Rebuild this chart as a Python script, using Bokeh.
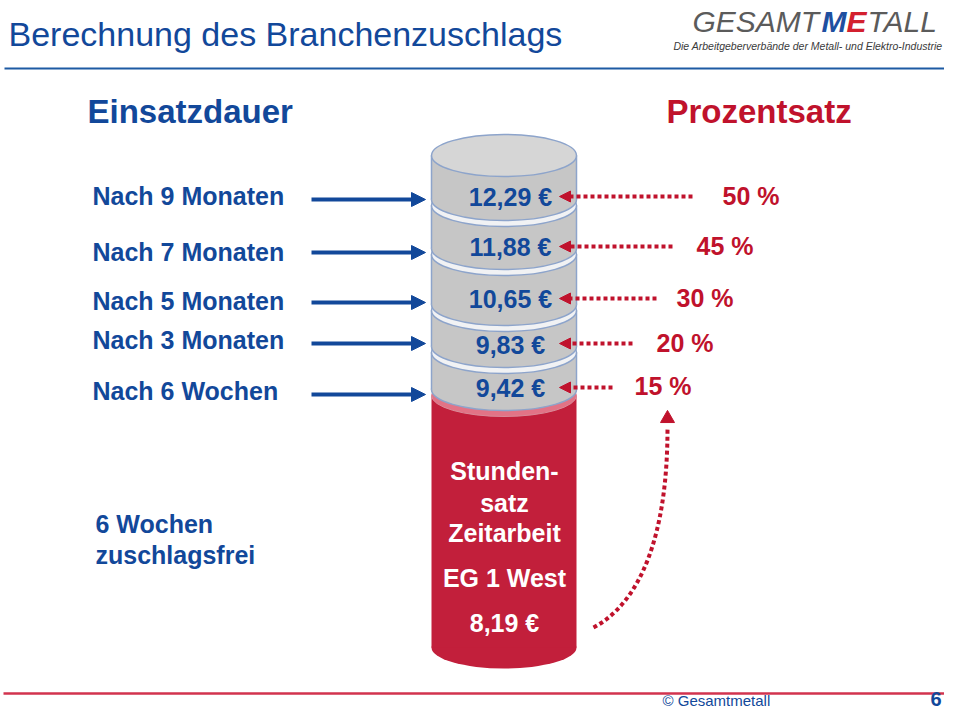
from bokeh.plotting import figure
from bokeh.models import Range1d, ColumnDataSource, Arrow, NormalHead
from bokeh.core.properties import value
from bokeh.embed import file_html
from bokeh.resources import INLINE

# ---------------- data ----------------
durations = ["Nach 6 Wochen", "Nach 3 Monaten", "Nach 5 Monaten", "Nach 7 Monaten", "Nach 9 Monaten"]
surcharge_pct = [15, 20, 30, 45, 50]
hourly_rate = [9.42, 9.83, 10.65, 11.88, 12.29]
base_rate = 8.19
base_lines = ["Stunden-", "satz", "Zeitarbeit", "EG 1 West"]
free_lines = ["6 Wochen", "zuschlagsfrei"]

# ---------------- layout (page pixels) ----------------
row_baseline = [400, 349, 310, 261, 205]
arrow_y = [394, 343, 302, 252, 199]
value_baseline = [397, 354, 308, 256, 206]
pct_arrow_y = [387, 343, 298, 246, 196]
pct_arrow_x0 = [612, 632, 656, 672, 692]
pct_label_x = [634, 656, 676, 696, 722]
pct_baseline = [395, 352, 307, 255, 205]
disk_top = [352, 310, 254, 205, 155]
disk_bottom = [389, 346, 304, 248, 199]
base_baselines = [480, 512, 542, 587]
free_baselines = [533, 564]

BLUE = "#12489A"
RED = "#C0122C"
CYL_RED = "#C21F3B"
GRAY = "#C6C6C6"
EDGE = "#8DA4CB"
FONT = value("Liberation Sans")

CX, RX, RY = 503.5, 145, 42
W, H = 944, 711

p = figure(width=W, height=H, x_range=Range1d(0, W), y_range=Range1d(H, 0),
           output_backend="svg", toolbar_location=None, min_border=0,
           x_axis_location=None, y_axis_location=None)
p.grid.visible = False
p.outline_line_color = None
p.background_fill_color = "white"
p.border_fill_color = "white"

def txt(x, y, s, size, color, style="normal", align="left"):
    # y is the wanted baseline; compensate renderer baseline offset
    p.text(x=[x], y=[y - 0.37 * size], text=[s], text_font=FONT, text_font_size=f"{size}px",
           text_color=color, text_font_style=style, text_align=align,
           text_baseline="alphabetic")

# header
txt(8, 46, "Berechnung des Branchenzuschlags", 34, BLUE)
p.segment(x0=[4], y0=[68], x1=[W], y1=[68], line_color="#1D5AA3", line_width=2)
txt(692, 32, "GESAMT", 30, "#5B5B5B", "italic")
txt(821, 32, "M", 30, "#1E4FA0", "bold italic")
txt(846, 32, "E", 30, "#D3202F", "bold italic")
txt(867, 32, "TALL", 30, "#5B5B5B", "italic")
txt(942, 49, "Die Arbeitgeberverbände der Metall- und Elektro-Industrie", 10.5, "#3A3A3A", "italic", "right")

txt(87, 123, "Einsatzdauer", 33, BLUE, "bold")
txt(666, 123, "Prozentsatz", 33, RED, "bold")

# left labels
for lab, yb in zip(durations, row_baseline):
    txt(92, yb, lab, 25, BLUE, "bold")

blue_src = ColumnDataSource(dict(x0=[311] * 5, x1=[425] * 5, y=arrow_y))
p.add_layout(Arrow(end=NormalHead(size=14, fill_color=BLUE, line_color=BLUE),
                   x_start="x0", y_start="y", x_end="x1", y_end="y",
                   line_color=BLUE, line_width=4, source=blue_src))

# red base cylinder
red_top = disk_bottom[0] + 6
red_bottom = 647
p.ellipse(x=[CX], y=[red_bottom], width=RX, height=RY, fill_color=CYL_RED, line_color=None)
p.quad(left=[CX - RX / 2], right=[CX + RX / 2], top=[red_top], bottom=[red_bottom],
       fill_color=CYL_RED, line_color=None)
p.ellipse(x=[CX], y=[red_top], width=RX, height=RY, fill_color="#E27386", line_color="#D98A98")

# gray disks, bottom to top
for i in range(5):
    yt, yb = disk_top[i], disk_bottom[i]
    p.ellipse(x=[CX], y=[yb], width=RX, height=RY, fill_color=GRAY, line_color=EDGE, line_width=1.5)
    p.quad(left=[CX - RX / 2], right=[CX + RX / 2], top=[yt], bottom=[yb],
           fill_color=GRAY, line_color=None)
    p.segment(x0=[CX - RX / 2, CX + RX / 2], y0=[yt, yt], x1=[CX - RX / 2, CX + RX / 2], y1=[yb, yb],
              line_color=EDGE, line_width=1.5)
    face = "#D6D6D6" if i == 4 else "#F1F2F4"
    p.ellipse(x=[CX], y=[yt], width=RX, height=RY, fill_color=face, line_color=EDGE, line_width=1.5)

# value labels
for v, yb in zip(hourly_rate, value_baseline):
    txt(510, yb, f"{v:.2f}".replace(".", ",") + " €", 25, BLUE, "bold", "center")

# red dotted arrows and percentages
red_src = ColumnDataSource(dict(x0=pct_arrow_x0, x1=[559] * 5, y=pct_arrow_y))
p.add_layout(Arrow(end=NormalHead(size=11, fill_color=RED, line_color=RED),
                   x_start="x0", y_start="y", x_end="x1", y_end="y",
                   line_color=RED, line_width=4, line_dash="4 3", source=red_src))
for pc, xl, yb in zip(surcharge_pct, pct_label_x, pct_baseline):
    txt(xl, yb, f"{pc} %", 25, RED, "bold")

# base cylinder text
for s, yb in zip(base_lines, base_baselines):
    txt(504, yb, s, 25, "white", "bold", "center")
txt(504, 632, f"{base_rate:.2f}".replace(".", ",") + " €", 25, "white", "bold", "center")

for s, yb in zip(free_lines, free_baselines):
    txt(95, yb, s, 25, BLUE, "bold")

# curved dotted arrow
p.bezier(x0=[593], y0=[627], x1=[667], y1=[428], cx0=[640], cy0=[602], cx1=[667], cy1=[535],
         line_color=RED, line_width=4, line_dash="4 3")
p.scatter(x=[667], y=[418], marker="triangle", size=14, fill_color=RED, line_color=RED)

# footer
p.segment(x0=[3], y0=[693], x1=[W], y1=[693], line_color="#D2334E", line_width=2.5)
txt(662, 706, "© Gesamtmetall", 15, BLUE)
txt(941, 706, "6", 20, BLUE, "bold", "right")

open("out.html", "w").write(file_html(p, INLINE))
